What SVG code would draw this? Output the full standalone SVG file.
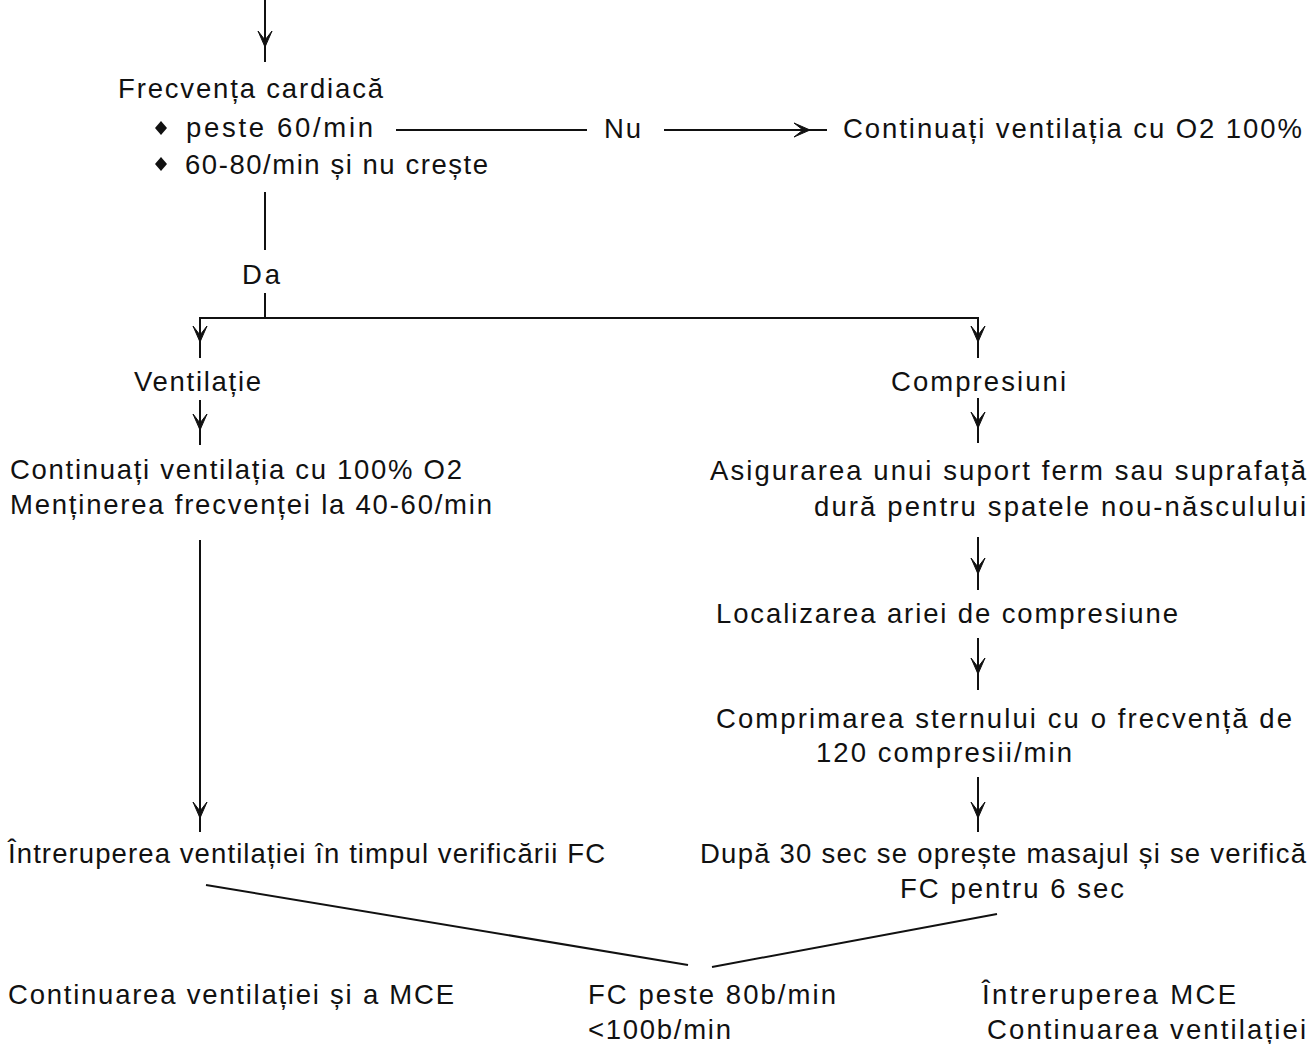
<svg xmlns="http://www.w3.org/2000/svg" xmlns:xlink="http://www.w3.org/1999/xlink" width="1311" height="1044" viewBox="0 0 1311 1044">
<style>
text{font-family:"Liberation Sans","Arial",sans-serif;font-size:27.5px;fill:#111}
.c line{stroke:#111;stroke-width:2;fill:none}
.dm{fill:#111}
</style>
<defs>
<path id="ahd" d="M0,0 L-7,-16 L0,-7 L7,-16 Z" fill="#111" stroke="#111" stroke-width="1"/>
<path id="ahr" d="M0,0 L-16,-7 L-7,0 L-16,7 Z" fill="#111" stroke="#111" stroke-width="1"/>
</defs>
<rect width="1311" height="1044" fill="#fff"/>
<g class="c" id="connectors">
<line x1="265" y1="0" x2="265" y2="62"/><use xlink:href="#ahd" x="265" y="47"/>
<line x1="396" y1="130" x2="587" y2="130"/>
<line x1="664" y1="130" x2="827" y2="130"/><use xlink:href="#ahr" x="810" y="130"/>
<line x1="265" y1="192" x2="265" y2="250"/>
<line x1="265" y1="293" x2="265" y2="318"/>
<line x1="199" y1="318" x2="979" y2="318"/>
<line x1="200" y1="318" x2="200" y2="358"/><use xlink:href="#ahd" x="200" y="342"/>
<line x1="978" y1="318" x2="978" y2="358"/><use xlink:href="#ahd" x="978" y="342"/>
<line x1="200" y1="400" x2="200" y2="445"/><use xlink:href="#ahd" x="200" y="430"/>
<line x1="978" y1="398" x2="978" y2="443"/><use xlink:href="#ahd" x="978" y="428"/>
<line x1="978" y1="537" x2="978" y2="590"/><use xlink:href="#ahd" x="978" y="574"/>
<line x1="978" y1="638" x2="978" y2="690"/><use xlink:href="#ahd" x="978" y="674"/>
<line x1="978" y1="777" x2="978" y2="832"/><use xlink:href="#ahd" x="978" y="818"/>
<line x1="200" y1="540" x2="200" y2="832"/><use xlink:href="#ahd" x="200" y="818"/>
<line x1="206" y1="885" x2="688" y2="965"/>
<line x1="712" y1="967" x2="997" y2="914"/>
</g>
<g id="n-frecventa">
<text x="118" y="98" textLength="265">Frecvența cardiacă</text>
<path class="dm" d="M161,121 L167,128 L161,135 L155,128 Z"/>
<text x="186" y="137" textLength="187">peste  60/min</text>
<path class="dm" d="M161,157 L167,164 L161,171 L155,164 Z"/>
<text x="185" y="174" textLength="303">60-80/min și nu crește</text>
</g>
<g id="n-nu"><text x="604" y="138" textLength="37">Nu</text></g>
<g id="n-continuati-o2"><text x="843" y="138" textLength="459">Continuați ventilația cu O2 100%</text></g>
<g id="n-da"><text x="242" y="284" textLength="38">Da</text></g>
<g id="n-ventilatie"><text x="134" y="391" textLength="127">Ventilație</text></g>
<g id="n-compresiuni"><text x="891" y="391" textLength="175">Compresiuni</text></g>
<g id="n-continuati-100">
<text x="10" y="479" textLength="452">Continuați ventilația cu 100% O2</text>
<text x="10" y="514" textLength="482">Menținerea frecvenței la 40-60/min</text>
</g>
<g id="n-asigurarea">
<text x="710" y="480" textLength="596">Asigurarea unui suport ferm sau suprafață</text>
<text x="814" y="516" textLength="492">dură pentru spatele nou-născulului</text>
</g>
<g id="n-localizarea"><text x="716" y="623" textLength="462">Localizarea ariei de compresiune</text></g>
<g id="n-comprimarea">
<text x="716" y="728" textLength="576">Comprimarea sternului cu o frecvență de</text>
<text x="816" y="762" textLength="256">120 compresii/min</text>
</g>
<g id="n-intreruperea-vent"><text x="8" y="863" textLength="597">Întreruperea ventilației în timpul verificării FC</text></g>
<g id="n-dupa">
<text x="700" y="863" textLength="606">După 30 sec se oprește masajul și se verifică</text>
<text x="900" y="898" textLength="224">FC pentru 6 sec</text>
</g>
<g id="n-continuarea-mce"><text x="8" y="1004" textLength="446">Continuarea ventilației și a MCE</text></g>
<g id="n-fc">
<text x="588" y="1004" textLength="248">FC peste 80b/min</text>
<text x="588" y="1039" textLength="143">&lt;100b/min</text>
</g>
<g id="n-intreruperea-mce">
<text x="982" y="1004" textLength="254">Întreruperea MCE</text>
<text x="987" y="1039" textLength="319">Continuarea ventilației</text>
</g>
</svg>
